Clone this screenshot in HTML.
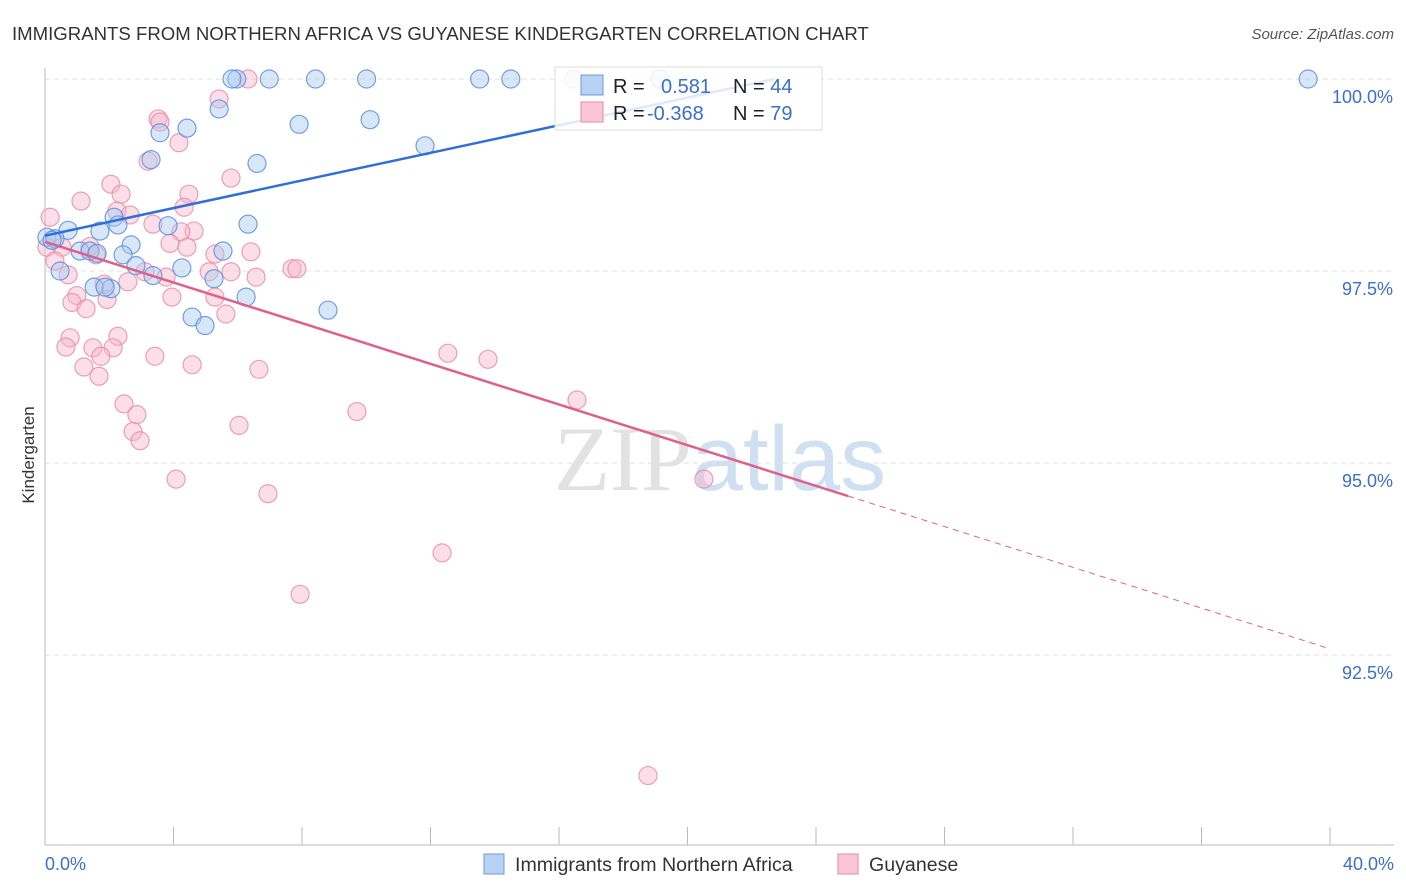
<!DOCTYPE html>
<html><head><meta charset="utf-8"><style>
body{margin:0;background:#fff;font-family:"Liberation Sans",sans-serif}
#c{position:absolute;left:0;top:0}
</style></head><body>
<svg id="c" width="1406" height="892" xmlns="http://www.w3.org/2000/svg">
<text x="12" y="40" font-size="18.6" fill="#333">IMMIGRANTS FROM NORTHERN AFRICA VS GUYANESE KINDERGARTEN CORRELATION CHART</text>
<text x="1394" y="39" font-size="15" fill="#555" font-style="italic" text-anchor="end">Source: ZipAtlas.com</text>
<text x="720" y="490" font-size="92" fill="#e2e2e2" text-anchor="middle" font-family="Liberation Serif">ZIP<tspan fill="#d0e0f3" font-family="Liberation Sans">atlas</tspan></text>
<g id="grid"></g>
<g id="axes"></g>
<g id="pts"></g>
<g id="lines"></g>
<text transform="translate(34,455) rotate(-90)" font-size="17" fill="#333" text-anchor="middle">Kindergarten</text>
<g>
<rect x="555" y="67" width="267" height="63" fill="#fff" fill-opacity="0.85" stroke="#ddd"/>
<rect x="581" y="75" width="22" height="20" fill="#b8d2f3" stroke="#6d9be0"/>
<rect x="581" y="102" width="22" height="20" fill="#f9c6d5" stroke="#e98aa8"/>
<text x="613" y="93" font-size="20" fill="#222">R =  <tspan x="661" fill="#3a6fd0">0.581</tspan><tspan x="733" fill="#222">N = </tspan><tspan fill="#3a6fd0">44</tspan></text>
<text x="613" y="120" font-size="20" fill="#222">R = <tspan x="647" fill="#3a6fd0">-0.368</tspan><tspan x="733" fill="#222">N = </tspan><tspan fill="#3a6fd0">79</tspan></text>
</g>
<g>
<rect x="484" y="854" width="20" height="20" fill="#b8d2f3" stroke="#6d9be0"/>
<text x="515" y="871" font-size="19.6" fill="#333">Immigrants from Northern Africa</text>
<rect x="838" y="854" width="20" height="20" fill="#f9c6d5" stroke="#e98aa8"/>
<text x="869" y="871" font-size="19.6" fill="#333">Guyanese</text>
</g>
</svg>
<script>
const yTicks=[100,97.5,95,92.5];
const yTickLabels=["100.0%","97.5%","95.0%","92.5%"];
const xTickVals=[0,4,8,12,16,20,24,28,32,36,40];
const blueX=[5.97,6.98,8.42,10.01,13.53,14.5,19.14,39.32,5.82,5.42,4.42,3.58,7.91,10.12,11.83,3.3,6.6,2.15,2.27,0.72,1.71,6.32,3.83,0.06,0.31,2.68,1.09,1.4,1.62,5.54,2.43,2.83,3.36,4.26,0.47,2.05,1.53,1.87,5.26,6.26,4.58,4.98,8.81,0.22];
const blueY=[100,100,100,100,100,100,100,100,100,99.61,99.36,99.3,99.41,99.47,99.13,98.95,98.9,98.2,98.1,98.03,98.02,98.11,98.09,97.94,97.92,97.84,97.76,97.76,97.73,97.76,97.71,97.57,97.44,97.54,97.5,97.27,97.29,97.29,97.4,97.16,96.9,96.79,96.99,97.9];
const pinkX=[6.32,16.47,5.42,3.52,3.58,4.17,3.21,5.79,2.05,4.48,1.12,2.37,4.33,2.24,2.65,0.16,3.36,4.64,4.23,0.06,0.53,1.4,3.89,4.42,5.29,6.41,1.59,0.31,0.72,3.11,3.77,5.11,5.79,6.57,7.69,7.84,2.58,1.84,0.99,0.84,1.93,3.95,5.29,1.28,5.63,0.78,2.27,0.65,1.49,2.12,1.74,3.42,4.58,1.21,6.66,1.68,12.54,13.79,2.46,2.86,16.56,9.71,2.74,2.96,6.04,4.08,6.94,20.51,12.36,7.94,18.77];
const pinkY=[100,100,99.74,99.48,99.44,99.17,98.93,98.71,98.63,98.5,98.41,98.5,98.33,98.28,98.23,98.2,98.11,98.02,98.01,97.81,97.81,97.82,97.86,97.81,97.72,97.75,97.71,97.63,97.45,97.49,97.42,97.49,97.49,97.42,97.53,97.53,97.36,97.33,97.18,97.09,97.13,97.16,97.16,97.01,96.94,96.63,96.65,96.51,96.5,96.5,96.39,96.39,96.28,96.25,96.22,96.13,96.43,96.35,95.77,95.63,95.82,95.67,95.41,95.29,95.49,94.79,94.6,94.79,93.83,93.29,90.93];
const blueFit=[[0,97.96],[22.7,100.0]];
const pinkFit=[[0,97.88],[25,94.57],[40,92.58]];
const NS='http://www.w3.org/2000/svg';
const X=v=>45+v*32.125, Y=v=>79+(100-v)*76.8;
function mk(t,a,p){const e=document.createElementNS(NS,t);for(const k in a)e.setAttribute(k,a[k]);p.appendChild(e);return e;}
const grid=document.getElementById('grid'),axes=document.getElementById('axes'),pts=document.getElementById('pts'),lines=document.getElementById('lines');
yTicks.forEach((v,i)=>{
 const l=mk('line',{x1:45,x2:1394,y1:Y(v),y2:Y(v),stroke:'#e2e2e2','stroke-dasharray':'5,4'},grid);
 
 
 const t=mk('text',{x:1393,y:Y(v)+24,'font-size':18,fill:'#3a6fd0','text-anchor':'end'},axes);
 t.textContent=yTickLabels[i];
 
 
});
const ya=mk('line',{x1:45,x2:45,y1:68,y2:845,stroke:'#bbb'},axes);


const xa=mk('line',{x1:45,x2:1394,y1:845,y2:845,stroke:'#bbb'},axes);


xTickVals.forEach(v=>{
 const t=mk('line',{x1:X(v),x2:X(v),y1:827,y2:845,stroke:'#bbb'},axes);
 
 
});
[[0,'0.0%','start',45],[40,'40.0%','end',1394]].forEach(d=>{
 const t=mk('text',{x:d[3],y:870,'font-size':18,fill:'#3a6fd0','text-anchor':d[2]},axes);
 t.textContent=d[1];
 
 
});
pinkX.forEach((x,i)=>{
 const c=mk('circle',{cx:X(x),cy:Y(pinkY[i]),r:9,fill:'#f7b6c9','fill-opacity':0.45,stroke:'#e98aa8','stroke-opacity':0.8,'stroke-width':1.2},pts);
 
 
});
blueX.forEach((x,i)=>{
 const c=mk('circle',{cx:X(x),cy:Y(blueY[i]),r:9,fill:'#a9c9f0','fill-opacity':0.45,stroke:'#5d8fdc','stroke-opacity':0.85,'stroke-width':1.2},pts);
 
 
});
const bl=mk('line',{x1:X(blueFit[0][0]),y1:Y(blueFit[0][1]),x2:X(blueFit[1][0]),y2:Y(blueFit[1][1]),stroke:'#2f6fd6','stroke-width':2.5},lines);


const pl=mk('line',{x1:X(pinkFit[0][0]),y1:Y(pinkFit[0][1]),x2:X(pinkFit[1][0]),y2:Y(pinkFit[1][1]),stroke:'#e0608a','stroke-width':2.5},lines);


const pd=mk('line',{x1:X(pinkFit[1][0]),y1:Y(pinkFit[1][1]),x2:X(pinkFit[2][0]),y2:Y(pinkFit[2][1]),stroke:'#e0608a','stroke-width':1,'stroke-dasharray':'6,5'},lines);


</script>
</body></html>
